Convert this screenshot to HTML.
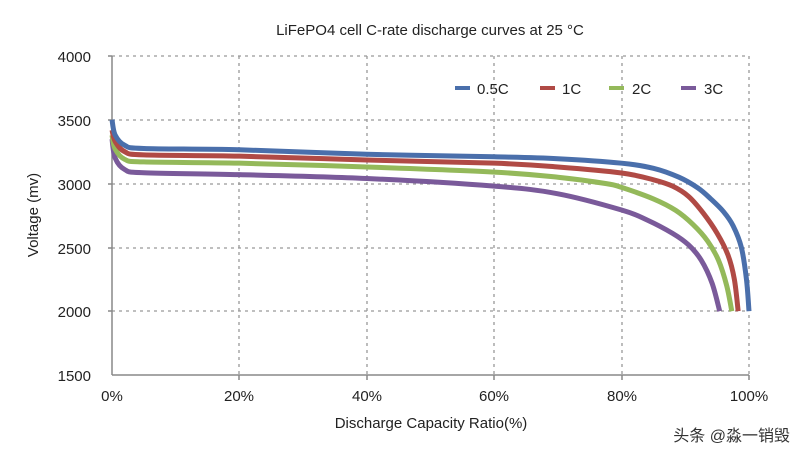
<!DOCTYPE html>
<html><head><meta charset="utf-8"><style>
html,body{margin:0;padding:0;background:#fff;}
svg{display:block;font-family:"Liberation Sans","Noto Sans CJK SC",sans-serif;}
</style></head><body>
<svg id="s" width="800" height="458" viewBox="0 0 800 458">
<text x="430" y="35" font-size="15" text-anchor="middle" fill="#222">LiFePO4 cell C-rate discharge curves at 25 °C</text>
<g stroke="#999" stroke-width="1.3" stroke-dasharray="3,4" fill="none">
<line x1="112" y1="56" x2="749" y2="56"/><line x1="112" y1="120" x2="749" y2="120"/>
<line x1="112" y1="184" x2="749" y2="184"/><line x1="112" y1="248" x2="749" y2="248"/>
<line x1="112" y1="311" x2="749" y2="311"/>
<line x1="239" y1="56" x2="239" y2="375"/><line x1="367" y1="56" x2="367" y2="375"/>
<line x1="494" y1="56" x2="494" y2="375"/><line x1="622" y1="56" x2="622" y2="375"/>
<line x1="749" y1="56" x2="749" y2="375"/>
</g>
<g stroke="#888" stroke-width="1.5">
<line x1="112" y1="56" x2="112" y2="375"/><line x1="112" y1="375" x2="749" y2="375"/>
<line x1="108" y1="56" x2="112" y2="56"/><line x1="108" y1="120" x2="112" y2="120"/><line x1="108" y1="184" x2="112" y2="184"/><line x1="108" y1="248" x2="112" y2="248"/><line x1="108" y1="311" x2="112" y2="311"/>
<line x1="239" y1="375" x2="239" y2="380"/><line x1="367" y1="375" x2="367" y2="380"/><line x1="494" y1="375" x2="494" y2="380"/><line x1="622" y1="375" x2="622" y2="380"/><line x1="749" y1="375" x2="749" y2="380"/>
</g>
<g font-size="15" fill="#222" text-anchor="end">
<text x="91" y="62">4000</text><text x="91" y="126">3500</text><text x="91" y="190">3000</text><text x="91" y="254">2500</text><text x="91" y="317">2000</text><text x="91" y="381">1500</text>
</g>
<g font-size="15" fill="#222" text-anchor="middle">
<text x="112" y="401">0%</text><text x="239" y="401">20%</text><text x="367" y="401">40%</text><text x="494" y="401">60%</text><text x="622" y="401">80%</text><text x="749" y="401">100%</text>
<text x="431" y="428">Discharge Capacity Ratio(%)</text>
</g>
<text transform="translate(38,215) rotate(-90)" font-size="15" fill="#222" text-anchor="middle">Voltage (mv)</text>
<g id="curves" fill="none" stroke-width="5" stroke-linecap="butt"></g>
<g stroke-width="4">
<line x1="455" y1="88" x2="470" y2="88" stroke="#4a6fab"/><line x1="540" y1="88" x2="555" y2="88" stroke="#b04a45"/>
<line x1="609" y1="88" x2="624" y2="88" stroke="#94b95a"/><line x1="681" y1="88" x2="696" y2="88" stroke="#7a5a9a"/>
</g>
<g font-size="15" fill="#222">
<text x="477" y="94">0.5C</text><text x="562" y="94">1C</text><text x="632" y="94">2C</text><text x="704" y="94">3C</text>
</g>
<text x="790" y="441" font-size="16" fill="#333" text-anchor="end">头条 @淼一销毁</text>
</svg>
<script>
var X=function(p){return 112+p*6.37},Y=function(v){return 375-(v-1500)*0.1276};
var S=[["#7a5a9a",[[0,3350],[0.5,3200],[2,3110],[5,3085],[20,3070],[40,3040],[60,2980],[70,2920],[80,2793],[84,2715],[88,2610],[90.5,2520],[92.5,2400],[94.2,2220],[95.4,2000]]],
["#94b95a",[[0,3380],[0.5,3270],[2,3190],[5,3170],[20,3160],[40,3130],[60,3090],[70,3050],[77.6,3000],[80,2970],[85,2880],[88.5,2790],[91.2,2680],[93.5,2550],[95.2,2400],[96.5,2200],[97.3,2000]]],
["#b04a45",[[0,3420],[0.5,3330],[2,3250],[5,3225],[20,3215],[40,3185],[60,3160],[70,3130],[80,3083],[85,3030],[88,2980],[90.5,2900],[92.8,2770],[95,2610],[96.7,2440],[97.7,2250],[98.3,2000]]],
["#4a6fab",[[0,3500],[0.5,3380],[2,3300],[5,3275],[20,3265],[40,3230],[60,3210],[70,3195],[80,3160],[85,3120],[89,3050],[92,2965],[94,2880],[96,2780],[97.5,2670],[98.8,2500],[99.6,2250],[100,2000]]]];
var g=document.getElementById("curves");
S.forEach(function(s){var p=s[1].map(function(a){return[X(a[0]),Y(a[1])]});var d="M"+p[0][0]+","+p[0][1];
for(var i=0;i<p.length-1;i++){var p0=p[i-1]||p[i],p1=p[i],p2=p[i+1],p3=p[i+2]||p2;
d+=" C"+(p1[0]+(p2[0]-p0[0])/6)+","+(p1[1]+(p2[1]-p0[1])/6)+" "+(p2[0]-(p3[0]-p1[0])/6)+","+(p2[1]-(p3[1]-p1[1])/6)+" "+p2[0]+","+p2[1];}
var e=document.createElementNS("http://www.w3.org/2000/svg","path");e.setAttribute("d",d);e.setAttribute("stroke",s[0]);g.appendChild(e);});
</script>
</body></html>
